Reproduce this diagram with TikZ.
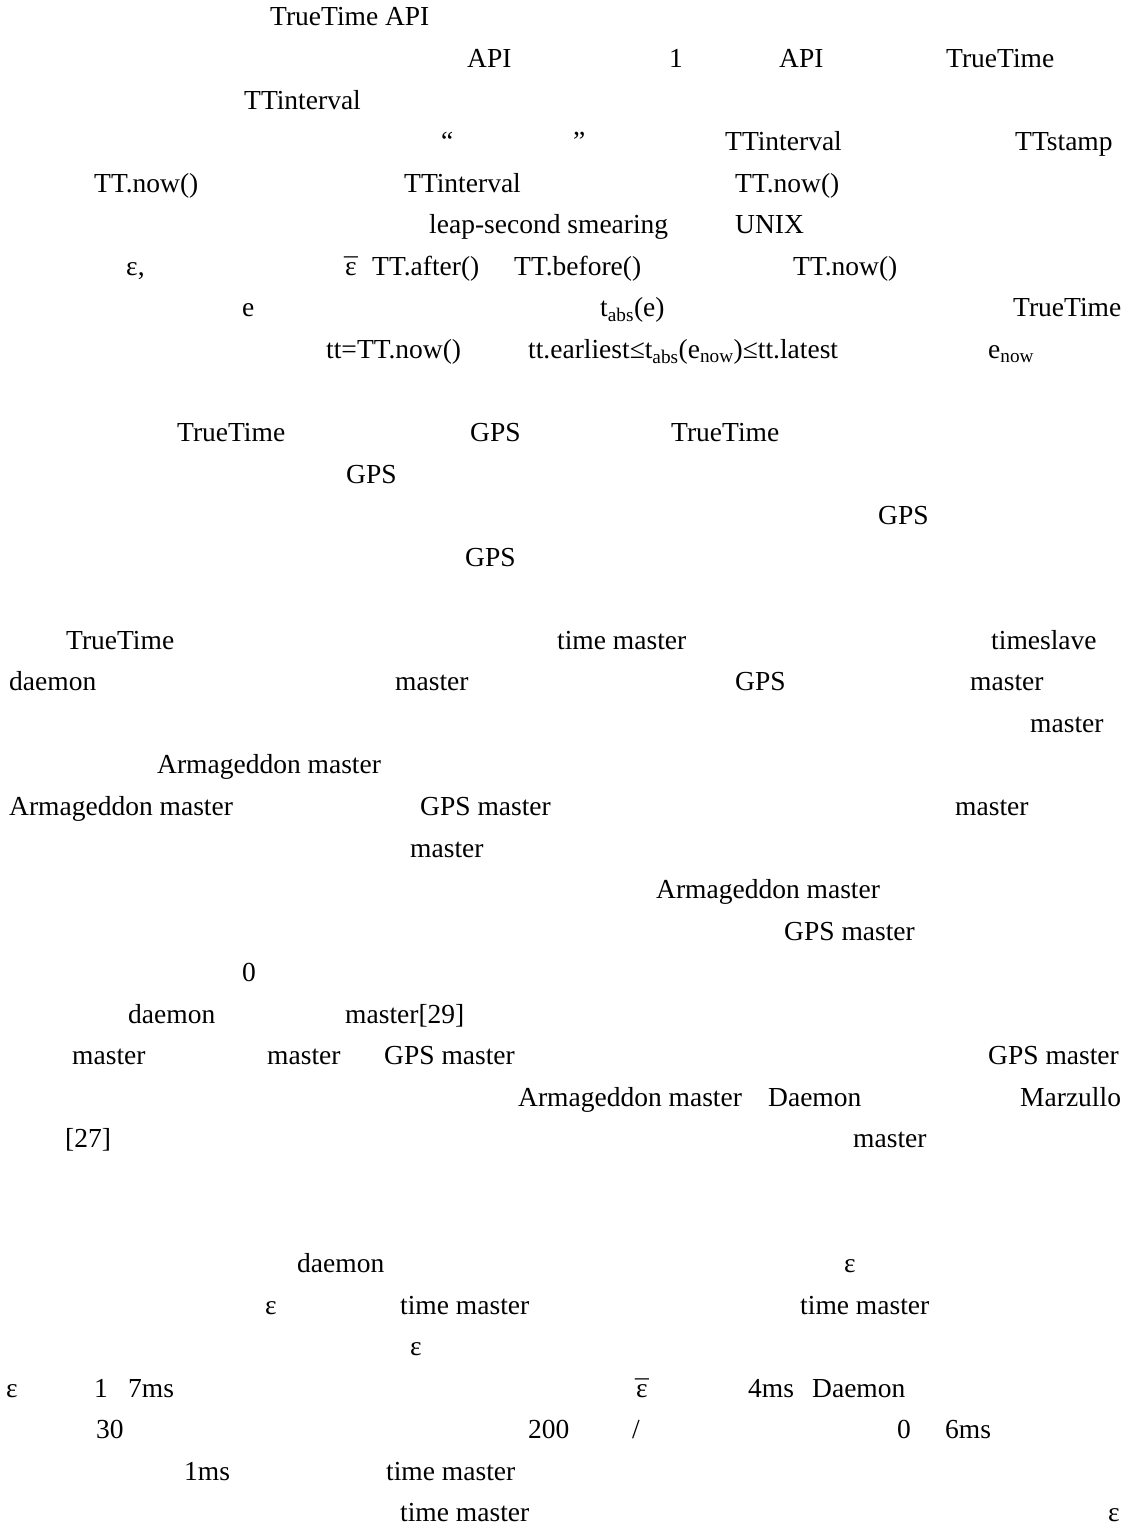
\documentclass[tikz,border=0pt]{standalone}
\usepackage{fontspec}
\setmainfont{Liberation Serif}
\newcommand{\epsbar}{\ooalign{ε\cr\hidewidth\raisebox{-.08em}{¯}\hidewidth\cr}}

\begin{document}
\begin{tikzpicture}[x=1pt,y=-41.55pt,
    txt/.style={anchor=base west,inner sep=0pt,font=\fontsize{27.5}{33}\selectfont}]
  \useasboundingbox[fill=white] (0pt,26pt) rectangle (1125pt,-1502pt);
  % first block
  \node (tta) at (270,0) [txt] {TrueTime API};
  \node (apia) at (467,1) [txt] {API};
  \node (one) at (669,1) [txt] {1};
  \node (apib) at (779,1) [txt] {API};
  \node (ttb) at (946,1) [txt] {TrueTime};
  \node (tia) at (244,2) [txt] {TTinterval};
  \node (qa) at (441,3) [txt] {“};
  \node (qb) at (573,3) [txt] {”};
  \node (tib) at (725,3) [txt] {TTinterval};
  \node (tts) at (1015,3) [txt] {TTstamp};
  \node (nowa) at (94,4) [txt] {TT.now()};
  \node (tic) at (404,4) [txt] {TTinterval};
  \node (nowb) at (735,4) [txt] {TT.now()};
  \node (leap) at (429,5) [txt] {leap-second smearing};
  \node (unix) at (735,5) [txt] {UNIX};
  \node (epsa) at (126,6) [txt] {ε,};
  \node (epsba) at (345,6) [txt] {\epsbar};
  \node (after) at (372,6) [txt] {TT.after()};
  \node (before) at (514,6) [txt] {TT.before()};
  \node (nowc) at (793,6) [txt] {TT.now()};
  \node (ev) at (242,7) [txt] {e};
  \node (tabs) at (600,7) [txt] {t\textsubscript{abs}(e)};
  \node (ttc) at (1013,7) [txt] {TrueTime};
  \node (ttnow) at (326,8) [txt] {tt=TT.now()};
  \node (ineq) at (528,8) [txt] {tt.earliest≤t\textsubscript{abs}(e\textsubscript{now})≤tt.latest};
  \node (enow) at (988,8) [txt] {e\textsubscript{now}};
  % GPS block
  \node (ttd) at (177,10) [txt] {TrueTime};
  \node (gpsa) at (470,10) [txt] {GPS};
  \node (tte) at (671,10) [txt] {TrueTime};
  \node (gpsb) at (346,11) [txt] {GPS};
  \node (gpsc) at (878,12) [txt] {GPS};
  \node (gpsd) at (465,13) [txt] {GPS};
  % masters block
  \node (ttf) at (66,15) [txt] {TrueTime};
  \node (tma) at (557,15) [txt] {time master};
  \node (slave) at (991,15) [txt] {timeslave};
  \node (dma) at (9,16) [txt] {daemon};
  \node (ma) at (395,16) [txt] {master};
  \node (gpse) at (735,16) [txt] {GPS};
  \node (mb) at (970,16) [txt] {master};
  \node (mc) at (1030,17) [txt] {master};
  \node (arma) at (157,18) [txt] {Armageddon master};
  \node (armb) at (9,19) [txt] {Armageddon master};
  \node (gma) at (420,19) [txt] {GPS master};
  \node (md) at (955,19) [txt] {master};
  \node (me) at (410,20) [txt] {master};
  \node (armc) at (656,21) [txt] {Armageddon master};
  \node (gmb) at (784,22) [txt] {GPS master};
  \node (zero) at (242,23) [txt] {0};
  \node (dmb) at (128,24) [txt] {daemon};
  \node (mref) at (345,24) [txt] {master[29]};
  \node (mf) at (72,25) [txt] {master};
  \node (mg) at (267,25) [txt] {master};
  \node (gmc) at (384,25) [txt] {GPS master};
  \node (gmd) at (988,25) [txt] {GPS master};
  \node (armd) at (518,26) [txt] {Armageddon master};
  \node (dmc) at (768,26) [txt] {Daemon};
  \node (marz) at (1020,26) [txt] {Marzullo};
  \node (ref) at (65,27) [txt] {[27]};
  \node (mh) at (853,27) [txt] {master};
  % uncertainty block
  \node (dmd) at (297,30) [txt] {daemon};
  \node (epsb) at (844,30) [txt] {ε};
  \node (epsc) at (265,31) [txt] {ε};
  \node (tmb) at (400,31) [txt] {time master};
  \node (tmc) at (800,31) [txt] {time master};
  \node (epsd) at (410,32) [txt] {ε};
  \node (epse) at (6,33) [txt] {ε};
  \node (onea) at (94,33) [txt] {1};
  \node (sevms) at (128,33) [txt] {7ms};
  \node (epsbb) at (636,33) [txt] {\epsbar};
  \node (fourms) at (748,33) [txt] {4ms};
  \node (dme) at (812,33) [txt] {Daemon};
  \node (thirty) at (96,34) [txt] {30};
  \node (twoh) at (528,34) [txt] {200};
  \node (slash) at (632,34) [txt] {/};
  \node (zerob) at (897,34) [txt] {0};
  \node (sixms) at (945,34) [txt] {6ms};
  \node (onems) at (184,35) [txt] {1ms};
  \node (tmd) at (386,35) [txt] {time master};
  \node (tme) at (400,36) [txt] {time master};
  \node (epsf) at (1108,36) [txt] {ε};
\end{tikzpicture}
\end{document}
